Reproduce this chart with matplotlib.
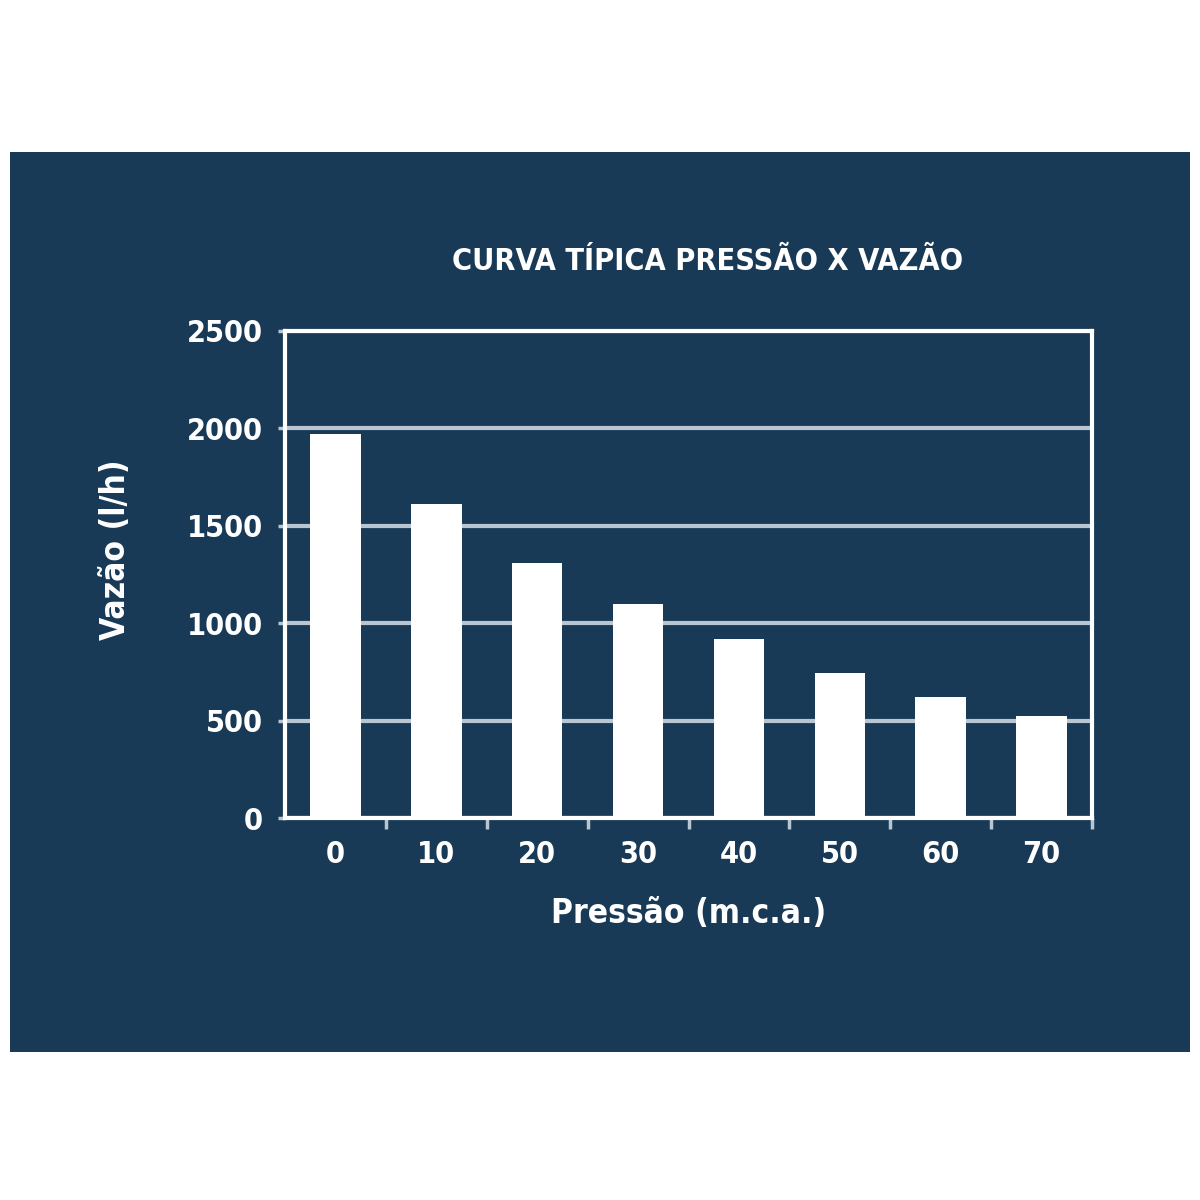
import matplotlib.pyplot as plt
from matplotlib.patches import Rectangle
import numpy as np

pressao = ['0', '10', '20', '30', '40', '50', '60', '70']
vazao = [1970, 1610, 1310, 1100, 920, 745, 620, 525]
yticks = [0, 500, 1000, 1500, 2000, 2500]

bg = '#193a56'
grid_c = '#b9c6d2'
fnt = ['DejaVu Sans']
fkw = dict(family=fnt, weight='bold', stretch='condensed', color='white')

fig = plt.figure(figsize=(12, 12), dpi=100)
fig.patch.set_facecolor('white')
fig.patches.append(Rectangle((10/1200, 1-1052/1200), 1180/1200, 900/1200,
                             transform=fig.transFigure, facecolor=bg, edgecolor='none', zorder=-10))

ax = fig.add_axes([285/1200, 1-818/1200, 807/1200, 487/1200])
ax.set_facecolor(bg)
x = np.arange(len(pressao))
ax.bar(x, vazao, width=0.5, color='white', zorder=3)
ax.set_xlim(-0.5, len(pressao) - 0.5)
ax.set_ylim(0, 2500)
ax.set_yticks(yticks)
ax.set_yticklabels([str(v) for v in yticks], fontsize=22, **fkw)
ax.set_xticks(x)
ax.set_xticklabels(pressao, fontsize=22, **fkw)
ax.tick_params(axis='x', length=0, pad=16)
ax.set_xticks(np.arange(len(pressao)) + 0.5, minor=True)
ax.tick_params(axis='x', which='minor', length=8, width=2.5, color=grid_c, direction='out')
ax.tick_params(axis='y', length=5, width=2.5, color=grid_c, pad=11)
ax.yaxis.grid(True, color=grid_c, linewidth=3, zorder=1)
ax.set_axisbelow(True)
for s in ax.spines.values():
    s.set_color('white')
    s.set_linewidth(3)

ax.set_xlabel('Pressão (m.c.a.)', fontsize=24, labelpad=20, **fkw)
ax.set_ylabel('Vazão (l/h)', fontsize=24, **fkw)
ax.yaxis.set_label_coords(-0.19, 0.55)
fig.text(708/1200, 1-262/1200, 'CURVA TÍPICA PRESSÃO X VAZÃO', fontsize=22,
         ha='center', va='center', **fkw)

plt.savefig('out.png', dpi=100, facecolor=fig.get_facecolor())
